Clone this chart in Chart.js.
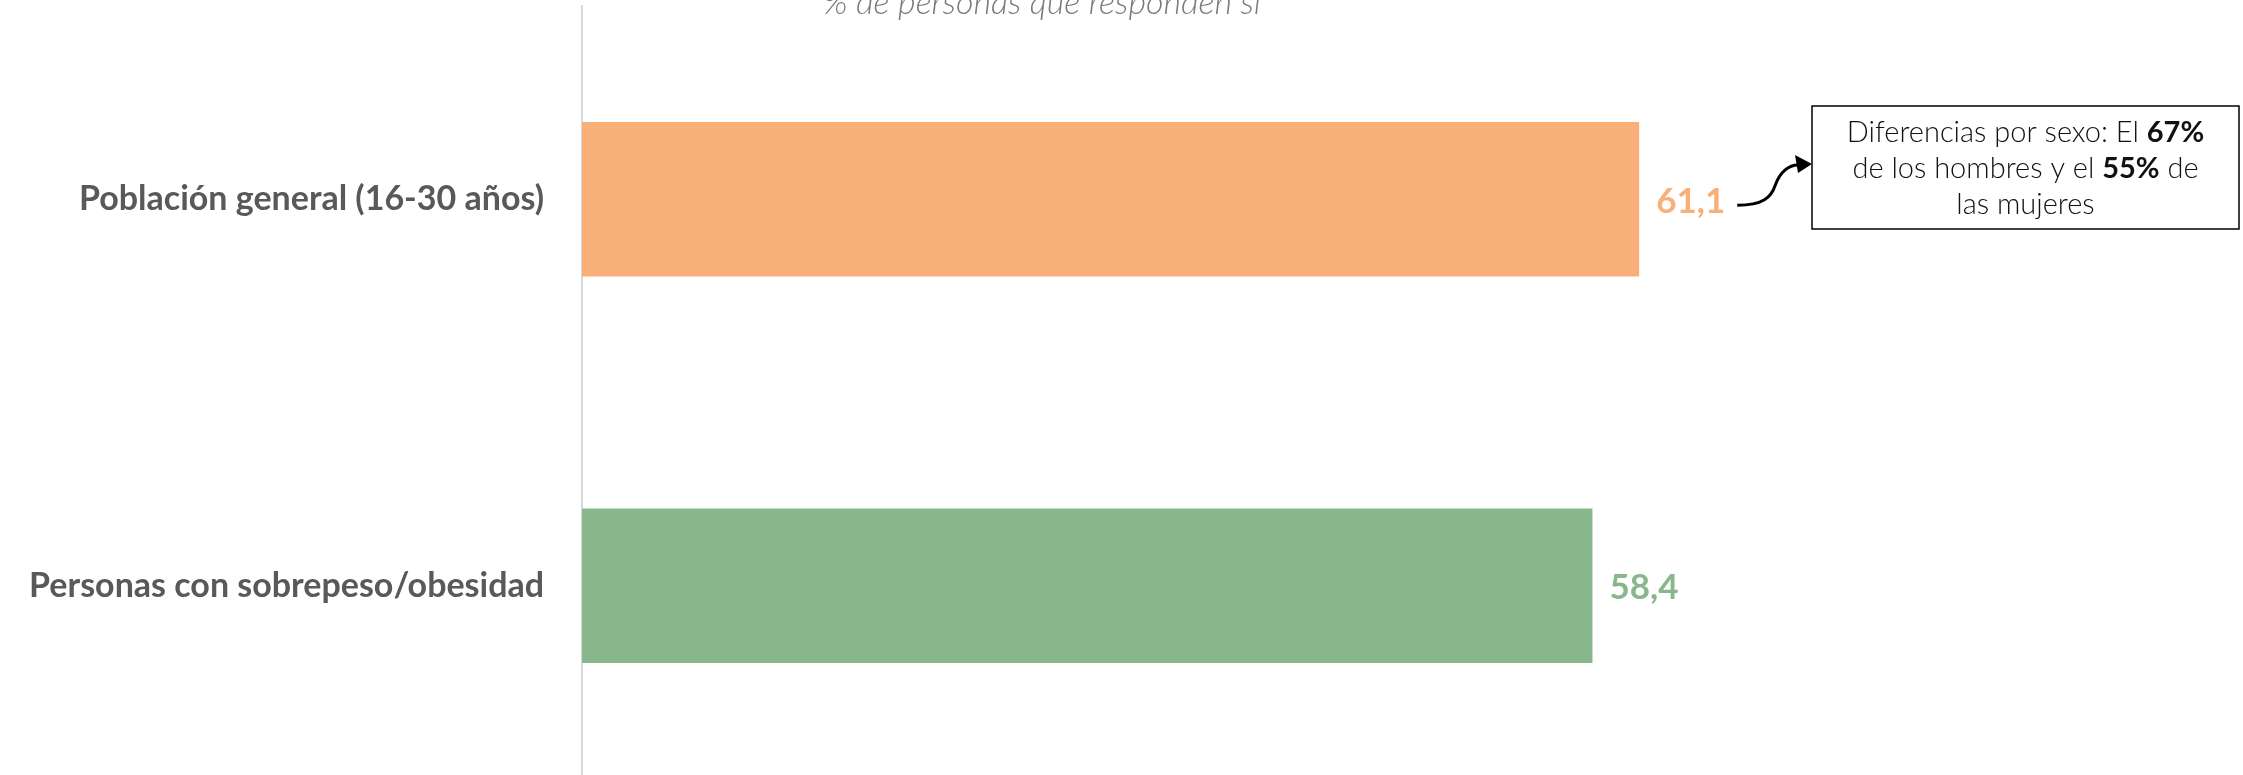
<!DOCTYPE html>
<html>
<head>
<meta charset="utf-8">
<script src="https://cdn.jsdelivr.net/npm/chart.js@4"></script>
<style>
  html, body { margin: 0; padding: 0; background: #fff; overflow: hidden; }
</style>
</head>
<body>
<canvas id="chart" width="2243" height="779"></canvas>
<script>
// datos del gráfico
const categories = ['Población general (16-30 años)', 'Personas con sobrepeso/obesidad'];
const values = [61.1, 58.4];
const barColors = ['#F8AF78', '#88B78B'];
const subtitle = '% de personas que responden sí';
// nota: [texto, negrita]
const noteLines = [
    [['Diferencias por sexo: El ', false], ['67%', true]],
    [['de los hombres y el ', false], ['55%', true], [' de', false]],
    [['las mujeres', false]]
];

const FONT = 'Lato';

function fmt(v) {
    return v.toFixed(1).replace('.', ',');
}

// etiquetas de valor, subtítulo y nota con flecha
const extrasPlugin = {
    id: 'extras',
    afterDatasetsDraw(chart) {
        const ctx = chart.ctx;
        const meta = chart.getDatasetMeta(0);
        ctx.save();

        // valores al final de cada barra
        ctx.font = `bold 35px ${FONT}`;
        ctx.textAlign = 'left';
        ctx.textBaseline = 'middle';
        let firstEnd = null;
        meta.data.forEach((bar, i) => {
            ctx.fillStyle = barColors[i];
            const tx = bar.x + 17;
            ctx.fillText(fmt(values[i]), tx, bar.y + 2);
            if (i === 0) firstEnd = { x: tx + ctx.measureText(fmt(values[i])).width, y: bar.y };
        });

        // subtítulo (cortado arriba como en el original)
        ctx.font = `italic 300 34px ${FONT}`;
        ctx.fillStyle = '#7a7a7a';
        ctx.textAlign = 'center';
        ctx.textBaseline = 'alphabetic';
        ctx.fillText(subtitle, 1042, 14);

        // caja de la nota
        const box = { left: 1812, top: 106, right: 2239, bottom: 229 };
        ctx.strokeStyle = '#000';
        ctx.lineWidth = 1.5;
        ctx.strokeRect(box.left, box.top, box.right - box.left, box.bottom - box.top);

        const cx = (box.left + box.right) / 2;
        const lineH = 36;
        ctx.fillStyle = '#111';
        ctx.textAlign = 'left';
        noteLines.forEach((parts, li) => {
            let total = 0;
            parts.forEach(([t, b]) => {
                ctx.font = `${b ? 'bold' : '300'} 29px ${FONT}`;
                total += ctx.measureText(t).width;
            });
            let x = cx - total / 2;
            const y = 142 + li * lineH;
            parts.forEach(([t, b]) => {
                ctx.font = `${b ? 'bold' : '300'} 29px ${FONT}`;
                ctx.fillText(t, x, y);
                x += ctx.measureText(t).width;
            });
        });

        // flecha curva desde la etiqueta hasta la caja
        if (firstEnd) {
            const sx = firstEnd.x + 12, sy = firstEnd.y + 6;
            const tipX = box.left, tipY = 165;
            ctx.strokeStyle = '#000';
            ctx.lineWidth = 3;
            ctx.beginPath();
            ctx.moveTo(sx, sy);
            ctx.bezierCurveTo(sx + 26, sy, sx + 34, sy - 8, sx + 38, sy - 20);
            ctx.bezierCurveTo(sx + 43, sy - 34, sx + 52, tipY, tipX - 14, tipY);
            ctx.stroke();
            ctx.fillStyle = '#000';
            ctx.beginPath();
            ctx.moveTo(tipX, tipY - 1);
            ctx.lineTo(tipX - 17, tipY - 10);
            ctx.lineTo(tipX - 14, tipY + 8);
            ctx.closePath();
            ctx.fill();
        }
        ctx.restore();
    }
};

const chart = new Chart(document.getElementById('chart').getContext('2d'), {
    type: 'bar',
    data: {
        labels: categories,
        datasets: [{
            data: values,
            backgroundColor: barColors,
            barPercentage: 0.4,
            categoryPercentage: 1.0
        }]
    },
    options: {
        indexAxis: 'y',
        responsive: false,
        animation: false,
        layout: { padding: { top: 6, right: 0, bottom: 0, left: 0 } },
        plugins: {
            legend: { display: false },
            tooltip: { enabled: false }
        },
        scales: {
            x: { display: false, min: 0, max: 96 },
            y: {
                grid: { display: false },
                border: { display: true, color: '#d9d9d9', width: 2 },
                ticks: {
                    color: '#595959',
                    font: { family: FONT, weight: 'bold', size: 34 },
                    padding: 30
                },
                afterFit: (scale) => {
                    scale.width = 582;
                    scale.paddingTop = 0;
                    scale.paddingBottom = 0;
                }
            }
        }
    },
    plugins: [extrasPlugin]
});
</script>
</body>
</html>
